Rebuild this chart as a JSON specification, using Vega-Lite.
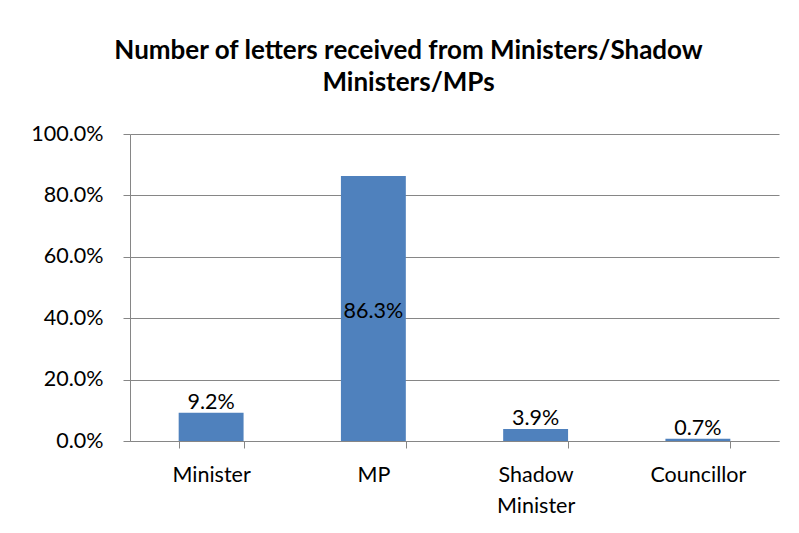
{
  "$schema": "https://vega.github.io/schema/vega-lite/v6.json",
  "width": 649,
  "height": 307,
  "autosize": "none",
  "padding": {"left": 130, "top": 134, "right": 20, "bottom": 92},
  "background": "white",
  "title": {
    "text": ["Number of letters received from Ministers/Shadow", "Ministers/MPs"],
    "font": "Lato",
    "fontSize": 26,
    "fontWeight": "bold",
    "color": "black",
    "anchor": "middle",
    "frame": "group",
    "dx": -46,
    "lineHeight": 32,
    "baseline": "alphabetic",
    "offset": 6
  },
  "data": {
    "values": [
      {"role": "Minister", "share": 0.092},
      {"role": "MP", "share": 0.863},
      {"role": "Shadow Minister", "share": 0.039},
      {"role": "Councillor", "share": 0.007}
    ]
  },
  "encoding": {
    "x": {
      "field": "role",
      "type": "nominal",
      "sort": null,
      "scale": {"paddingInner": 0.6, "paddingOuter": 0.3},
      "axis": {
        "title": null,
        "labelAngle": 0,
        "tickBand": "extent",
        "grid": false,
        "domainColor": "#868686",
        "tickColor": "#868686",
        "tickSize": 7,
        "labelFont": "Lato",
        "labelFontSize": 21.5,
        "labelColor": "black",
        "labelPadding": 16,
        "labelLineHeight": 31,
        "labelExpr": "datum.label == 'Shadow Minister' ? ['Shadow', 'Minister'] : datum.label"
      }
    }
  },
  "layer": [
    {
      "mark": {"type": "bar", "color": "#4F81BD"},
      "encoding": {
        "y": {
          "field": "share",
          "type": "quantitative",
          "scale": {"domain": [0, 1]},
          "axis": {
            "title": null,
            "values": [0, 0.2, 0.4, 0.6, 0.8, 1.0],
            "format": ".1%",
            "gridColor": "#868686",
            "gridWidth": 1,
            "domainColor": "#868686",
            "tickColor": "#868686",
            "tickSize": 7,
            "labelFont": "Lato",
            "labelFontSize": 21.5,
            "labelColor": "black",
            "labelPadding": 20
          }
        }
      }
    },
    {
      "transform": [{"filter": "datum.share >= 0.2"}],
      "mark": {"type": "text", "font": "Lato", "fontSize": 21.5, "color": "black", "baseline": "middle", "dy": 3},
      "encoding": {
        "y": {
          "field": "share",
          "type": "quantitative",
          "scale": {"domain": [0, 2]},
          "axis": null
        },
        "text": {"field": "share", "type": "quantitative", "format": ".1%"}
      }
    },
    {
      "transform": [{"filter": "datum.share < 0.2"}],
      "mark": {"type": "text", "font": "Lato", "fontSize": 21.5, "color": "black", "baseline": "bottom", "dy": 1},
      "encoding": {
        "y": {
          "field": "share",
          "type": "quantitative",
          "scale": {"domain": [0, 1]},
          "axis": null
        },
        "text": {"field": "share", "type": "quantitative", "format": ".1%"}
      }
    }
  ],
  "resolve": {"scale": {"y": "independent"}},
  "config": {"view": {"stroke": null}}
}
